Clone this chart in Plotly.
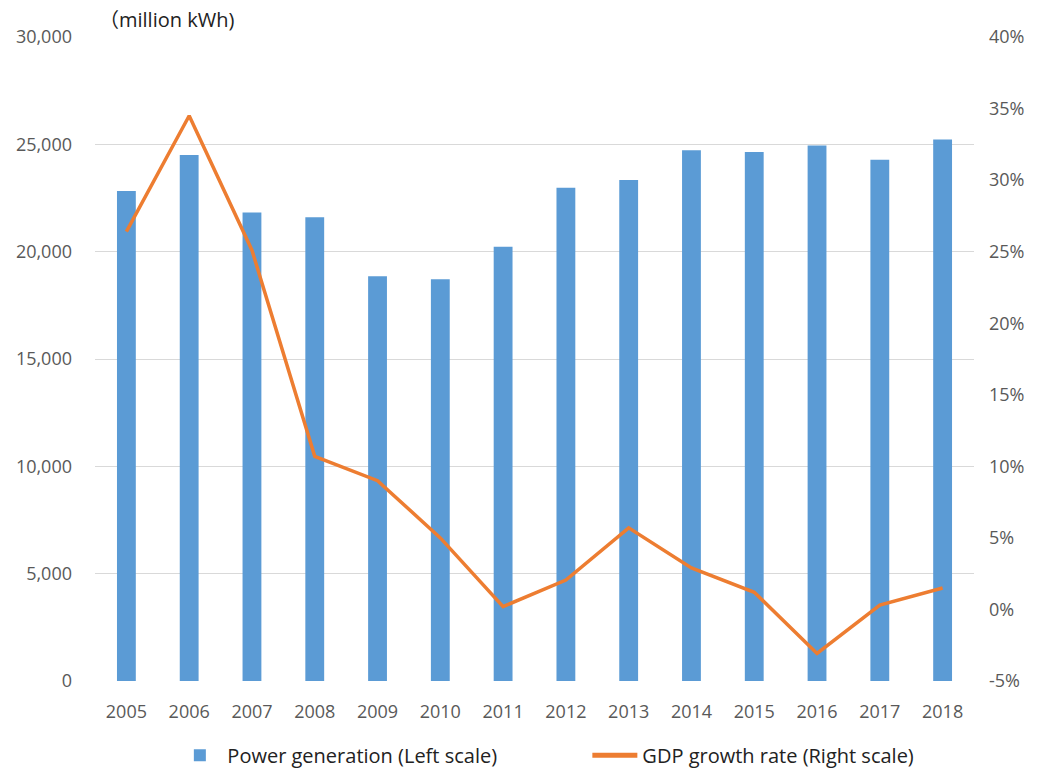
import plotly.graph_objects as go

years = ["2005", "2006", "2007", "2008", "2009", "2010", "2011",
         "2012", "2013", "2014", "2015", "2016", "2017", "2018"]
power_generation = [22830, 24500, 21820, 21600, 18850, 18710, 20230,
                    22980, 23340, 24720, 24640, 24950, 24280, 25230]
gdp_growth = [26.4, 34.5, 25.1, 10.7, 9.0, 5.0, 0.2,
              2.05, 5.7, 2.9, 1.2, -3.07, 0.3, 1.5]

left_ticks = [0, 5000, 10000, 15000, 20000, 25000, 30000]
right_ticks = [-5, 0, 5, 10, 15, 20, 25, 30, 35, 40]
right_labels = ["-5%", "0%", "5%", "10%", "15%", "20%", "25%", "30%", "35%", "40%"]

FONT = "Open Sans, Noto Sans CJK JP"
TICK_COLOR = "#595959"

fig = go.Figure()
fig.add_trace(go.Bar(
    x=years, y=power_generation, name="Power generation (Left scale)",
    marker=dict(color="#5B9BD5", line=dict(width=0)), width=0.3, yaxis="y"))
fig.add_trace(go.Scatter(
    x=years, y=gdp_growth, name="GDP growth rate (Right scale)",
    mode="lines", line=dict(color="#ED7D31", width=3.5), yaxis="y2"))

fig.update_layout(
    width=1038, height=771,
    margin=dict(l=95, r=64, t=37, b=90, autoexpand=False),
    plot_bgcolor="white", paper_bgcolor="white",
    font=dict(family=FONT, size=18, color=TICK_COLOR),
    xaxis=dict(showgrid=False, showline=False, ticks="", ticklabelstandoff=18,
               tickfont=dict(size=18, color=TICK_COLOR)),
    yaxis=dict(range=[0, 30000], tickvals=left_ticks, tickformat=",",
               showgrid=True, gridcolor="#D9D9D9", gridwidth=1,
               zeroline=False, showline=False, ticks="", ticklabelstandoff=22,
               tickfont=dict(size=18, color=TICK_COLOR)),
    yaxis2=dict(range=[-5, 40], tickvals=right_ticks, ticktext=right_labels,
                overlaying="y", side="right", showgrid=False, zeroline=False,
                showline=False, ticks="", ticklabelstandoff=14,
                tickfont=dict(size=18, color=TICK_COLOR)),
    legend=dict(orientation="h", x=0.088, xanchor="left", y=-0.085, yanchor="top",
                font=dict(size=20, color="#222222"), itemwidth=45,
                traceorder="normal", entrywidth=355, itemsizing="constant"),
    bargap=0.7,
    annotations=[dict(text="（million kWh)", xref="paper", yref="paper",
                      x=0.0, y=1.0, xanchor="left", yanchor="bottom", showarrow=False,
                      xshift=2, yshift=2,
                      font=dict(size=20, color="#222222", family=FONT))],
)

fig.write_html("out.html")
